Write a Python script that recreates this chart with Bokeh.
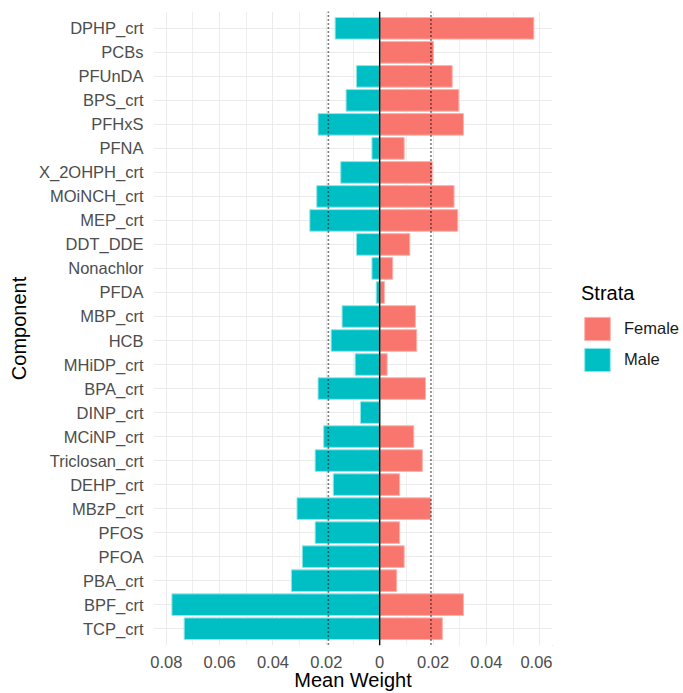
from bokeh.plotting import figure
from bokeh.layouts import row
from bokeh.models import (ColumnDataSource, FactorRange, Range1d, FixedTicker,
                          CustomJSTickFormatter, Span, Legend, LegendItem)
from bokeh.embed import file_html
from bokeh.resources import INLINE

# Components listed top to bottom as in the chart
components = ["DPHP_crt", "PCBs", "PFUnDA", "BPS_crt", "PFHxS", "PFNA",
              "X_2OHPH_crt", "MOiNCH_crt", "MEP_crt", "DDT_DDE", "Nonachlor",
              "PFDA", "MBP_crt", "HCB", "MHiDP_crt", "BPA_crt", "DINP_crt",
              "MCiNP_crt", "Triclosan_crt", "DEHP_crt", "MBzP_crt", "PFOS",
              "PFOA", "PBA_crt", "BPF_crt", "TCP_crt"]
female_weight = [0.0578, 0.0202, 0.0272, 0.0297, 0.0314, 0.0092,
                 0.0197, 0.0279, 0.0293, 0.0113, 0.0049,
                 0.0018, 0.0134, 0.0139, 0.0028, 0.0172, 0.0,
                 0.0128, 0.0160, 0.0075, 0.0192, 0.0075,
                 0.0092, 0.0064, 0.0314, 0.0235]
male_weight = [0.0167, 0.0, 0.0087, 0.0126, 0.0231, 0.0029,
               0.0146, 0.0236, 0.0262, 0.0087, 0.0029,
               0.0013, 0.0141, 0.0182, 0.0092, 0.0231, 0.0072,
               0.0210, 0.0242, 0.0174, 0.0310, 0.0242,
               0.0290, 0.0331, 0.0779, 0.0733]
strata = ["Female", "Male"]
threshold = 1 / 52
major_ticks = [-0.08, -0.06, -0.04, -0.02, 0.0, 0.02, 0.04, 0.06]
minor_ticks = [-0.07, -0.05, -0.03, -0.01, 0.01, 0.03, 0.05]

FONT = "Liberation Sans"
F_FILL, F_LINE = "#F8766D", "#FBB4AE"
M_FILL, M_LINE = "#00BFC4", "#8FE8EA"
H = 693
W_MAIN = 552
W_LEG = 131

p = figure(width=W_MAIN, height=H,
           y_range=FactorRange(factors=components[::-1], range_padding=0.2,
                               range_padding_units="absolute"),
           x_range=Range1d(-0.0848, 0.0648),
           output_backend="svg", toolbar_location=None,
           min_border_left=153, min_border_right=0,
           min_border_top=11, min_border_bottom=44)
p.outline_line_color = None
p.background_fill_color = "white"
p.border_fill_color = "white"

src_f = ColumnDataSource(dict(y=components, right=female_weight))
src_m = ColumnDataSource(dict(y=components, left=[-v for v in male_weight]))
p.hbar(y="y", left=0, right="right", height=0.9, source=src_f,
       fill_color=F_FILL, line_color=F_LINE, line_width=1)
p.hbar(y="y", left="left", right=0, height=0.9, source=src_m,
       fill_color=M_FILL, line_color=M_LINE, line_width=1)

ticker = FixedTicker(ticks=major_ticks, minor_ticks=minor_ticks)
p.xaxis.ticker = ticker
p.xgrid.ticker = ticker
p.xaxis.formatter = CustomJSTickFormatter(
    code="return Math.abs(tick) < 1e-9 ? '0' : Math.abs(tick).toFixed(2);")

p.xgrid.grid_line_color = "#EBEBEB"
p.xgrid.grid_line_width = 1.1
p.xgrid.minor_grid_line_color = "#EBEBEB"
p.xgrid.minor_grid_line_width = 0.8
p.ygrid.grid_line_color = "#EBEBEB"
p.ygrid.grid_line_width = 1.1

for ax in (p.xaxis, p.yaxis):
    ax.axis_line_color = None
    ax.major_tick_line_color = None
    ax.minor_tick_line_color = None
    ax.major_tick_out = 0
    ax.major_tick_in = 0
    ax.major_label_text_font = FONT
    ax.major_label_text_font_size = "16.5px"
    ax.major_label_text_color = "#4D4D4D"
    ax.axis_label_text_font = FONT
    ax.axis_label_text_font_size = "20px"
    ax.axis_label_text_font_style = "normal"
    ax.axis_label_text_color = "black"

p.xaxis.axis_label = "Mean Weight"
p.yaxis.axis_label = "Component"
p.xaxis.major_label_standoff = 6
p.xaxis.axis_label_standoff = -2
p.yaxis.major_label_standoff = 10
p.yaxis.axis_label_standoff = 6

for loc in (-threshold, threshold):
    p.add_layout(Span(location=loc, dimension="height", line_color="black",
                      line_width=1.6, line_dash="1 3"))
p.add_layout(Span(location=0, dimension="height", line_color="black",
                  line_width=1.4))

# legend panel (separate figure beside the plot)
lp = figure(width=W_LEG, height=H, x_range=Range1d(0, 1), y_range=Range1d(0, 1),
            x_axis_type=None, y_axis_type=None,
            output_backend="svg", toolbar_location=None,
            min_border_left=0, min_border_right=0,
            min_border_top=0, min_border_bottom=0)
lp.outline_line_color = None
lp.grid.visible = False
lp.background_fill_color = "white"
lp.border_fill_color = "white"
# legend-only renderers: one zero-width bar each, outside the visible range
key_src = ColumnDataSource(dict(y=[-5.0], left=[0.0], right=[0.0]))
lf = lp.hbar(y="y", left="left", right="right", height=0.9, source=key_src,
             fill_color=F_FILL, line_color=F_LINE, line_width=1)
lm = lp.hbar(y="y", left="left", right="right", height=0.9, source=key_src,
             fill_color=M_FILL, line_color=M_LINE, line_width=1)

legend = Legend(items=[LegendItem(label=strata[0], renderers=[lf]),
                       LegendItem(label=strata[1], renderers=[lm])],
                location=(29, 271), title="Strata",
                title_text_font=FONT, title_text_font_size="20px",
                title_text_font_style="normal", title_text_color="black",
                title_standoff=9,
                label_text_font=FONT, label_text_font_size="16.5px",
                label_text_color="#1A1A1A",
                glyph_width=32, glyph_height=29, spacing=2,
                label_standoff=11, padding=0, margin=0,
                border_line_color=None, background_fill_alpha=0)
lp.add_layout(legend)

layout = row(p, lp)
open("out.html", "w").write(file_html(layout, INLINE))
